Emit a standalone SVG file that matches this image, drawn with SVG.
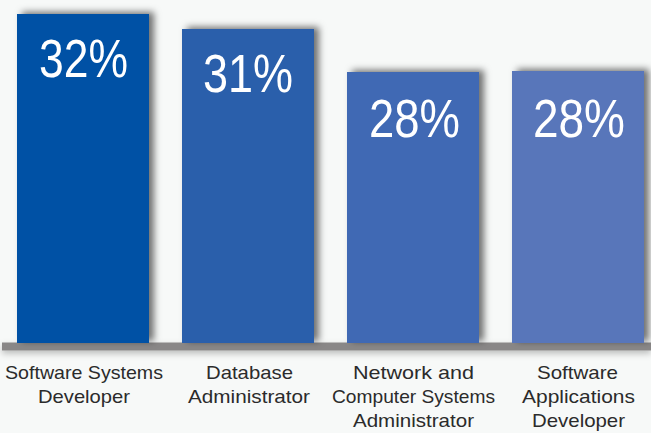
<svg xmlns="http://www.w3.org/2000/svg" width="651" height="433" viewBox="0 0 651 433">
<defs>
<filter id="sh" x="-20%" y="-10%" width="140%" height="120%">
<feDropShadow dx="5" dy="-2" stdDeviation="3.5" flood-color="#000" flood-opacity="0.55"/>
</filter>
<filter id="shb" x="-5%" y="-50%" width="110%" height="300%">
<feDropShadow dx="0" dy="3" stdDeviation="3" flood-color="#000" flood-opacity="0.25"/>
</filter>
</defs>
<style>
.pct{font-family:"Liberation Sans",Arial,sans-serif;font-size:54px;fill:#fff;text-anchor:middle}
.lbl{font-family:"Liberation Sans",Arial,sans-serif;font-size:19px;fill:#2b2b2b;text-anchor:middle}
</style>
<rect width="651" height="433" fill="#f7f9f8"/>
<g id="connectors">
<rect x="2" y="342.5" width="649" height="8" fill="#898787" filter="url(#shb)"/>
</g>
<g id="bar1">
<rect x="17" y="14" width="132" height="329" fill="#0151a5" filter="url(#sh)"/>
<text class="pct" x="83.5" y="77" textLength="89" lengthAdjust="spacingAndGlyphs">32%</text>
<text class="lbl" x="84" y="379" textLength="158" lengthAdjust="spacingAndGlyphs">Software Systems</text>
<text class="lbl" x="84" y="403" textLength="92" lengthAdjust="spacingAndGlyphs">Developer</text>
</g>
<g id="bar2">
<rect x="182" y="29" width="132" height="314" fill="#295eab" filter="url(#sh)"/>
<text class="pct" x="248" y="92" textLength="90" lengthAdjust="spacingAndGlyphs">31%</text>
<text class="lbl" x="249.5" y="379" textLength="87" lengthAdjust="spacingAndGlyphs">Database</text>
<text class="lbl" x="249" y="403" textLength="122" lengthAdjust="spacingAndGlyphs">Administrator</text>
</g>
<g id="bar3">
<rect x="347" y="72" width="132" height="271" fill="#3f69b4" filter="url(#sh)"/>
<text class="pct" x="414.5" y="137" textLength="91" lengthAdjust="spacingAndGlyphs">28%</text>
<text class="lbl" x="413.5" y="379" textLength="121" lengthAdjust="spacingAndGlyphs">Network and</text>
<text class="lbl" x="413.5" y="403" textLength="163" lengthAdjust="spacingAndGlyphs">Computer Systems</text>
<text class="lbl" x="413.5" y="427" textLength="121" lengthAdjust="spacingAndGlyphs">Administrator</text>
</g>
<g id="bar4">
<rect x="512" y="71" width="132" height="272" fill="#5876ba" filter="url(#sh)"/>
<text class="pct" x="579" y="137" textLength="92" lengthAdjust="spacingAndGlyphs">28%</text>
<text class="lbl" x="577.5" y="379" textLength="81" lengthAdjust="spacingAndGlyphs">Software</text>
<text class="lbl" x="578.5" y="403" textLength="113" lengthAdjust="spacingAndGlyphs">Applications</text>
<text class="lbl" x="578.5" y="427" textLength="93" lengthAdjust="spacingAndGlyphs">Developer</text>
</g>
</svg>
